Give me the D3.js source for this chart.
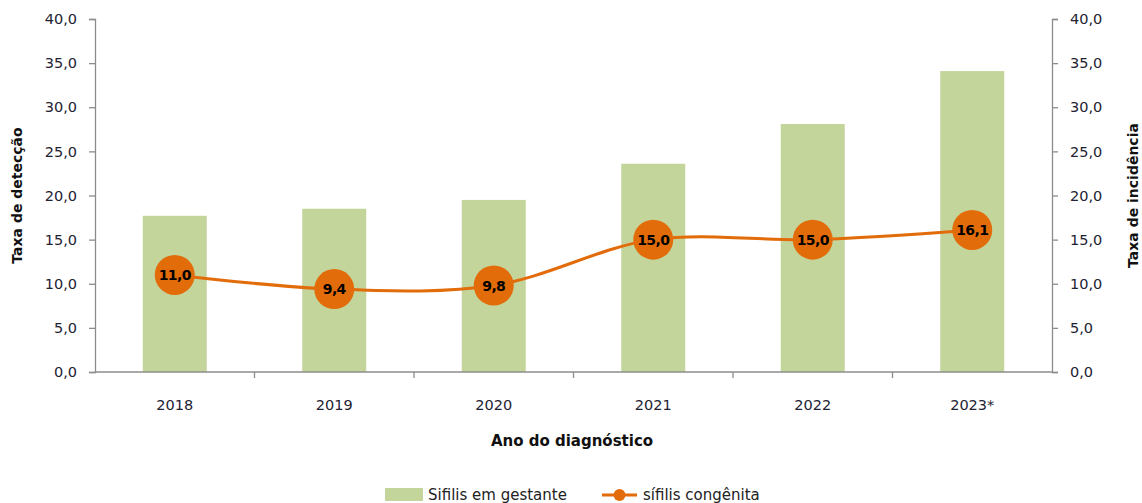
<!DOCTYPE html>
<html>
<head>
<meta charset="utf-8">
<script src="https://cdn.jsdelivr.net/npm/d3@7"></script>
<style>
  body { margin: 0; background: #fff; }
  svg text { font-family: "DejaVu Sans", Verdana, sans-serif; }
</style>
</head>
<body>
<div id="chart"></div>
<script>
// data
const years = ["2018", "2019", "2020", "2021", "2022", "2023*"];
const gestante = [17.7, 18.5, 19.5, 23.6, 28.1, 34.1];
const congenita = [11.0, 9.4, 9.8, 15.0, 15.0, 16.1];
const yTicks = [0, 5, 10, 15, 20, 25, 30, 35, 40];

const width = 1142, height = 503;
const margin = { top: 19, right: 90, bottom: 131, left: 95 };

const svg = d3.select("#chart").append("svg")
  .attr("width", width).attr("height", height);

const fmt = (d) => d3.format(".1f")(d).replace(".", ",");

// scales
const xOuter = d3.scaleBand().domain(years)
  .range([margin.left, width - margin.right]);
const yL = d3.scaleLinear().domain([0, 40]).range([height - margin.bottom, margin.top]);
const yR = d3.scaleLinear().domain([0, 40]).range([height - margin.bottom, margin.top]);
const cx = (i) => xOuter(years[i]) + xOuter.bandwidth() / 2;

const axisColor = "#8c8c8c";

// bars
svg.append("g").selectAll("rect")
  .data(gestante)
  .join("rect")
  .attr("x", (d, i) => cx(i) - 32)
  .attr("width", 64)
  .attr("y", (d) => yL(d))
  .attr("height", (d) => yL(0) - yL(d))
  .attr("fill", "#c4d59c");

// left axis
const gL = svg.append("g")
  .attr("transform", `translate(${margin.left},0)`)
  .call(d3.axisLeft(yL).tickValues(yTicks).tickFormat(fmt).tickSize(6).tickPadding(12));
// right axis
const gR = svg.append("g")
  .attr("transform", `translate(${width - margin.right},0)`)
  .call(d3.axisRight(yR).tickValues(yTicks).tickFormat(fmt).tickSize(6).tickPadding(12));

[gL, gR].forEach((g) => {
  g.select(".domain").attr("stroke", axisColor).attr("stroke-width", 1.3);
  g.selectAll(".tick line").attr("stroke", axisColor).attr("stroke-width", 1.3);
  g.selectAll(".tick text").attr("font-size", 14.5).attr("fill", "#222233");
});

// x axis baseline + ticks at category borders
const xBase = yL(0);
svg.append("line")
  .attr("x1", margin.left).attr("x2", width - margin.right)
  .attr("y1", xBase).attr("y2", xBase)
  .attr("stroke", axisColor).attr("stroke-width", 1.3);
svg.append("g").selectAll("line")
  .data(years.slice(1))
  .join("line")
  .attr("x1", (d) => xOuter(d)).attr("x2", (d) => xOuter(d))
  .attr("y1", xBase).attr("y2", xBase + 6)
  .attr("stroke", axisColor).attr("stroke-width", 1.3);
svg.append("g").selectAll("text")
  .data(years)
  .join("text")
  .attr("x", (d, i) => cx(i))
  .attr("y", xBase + 38)
  .attr("text-anchor", "middle")
  .attr("font-size", 14.5)
  .attr("fill", "#222233")
  .text((d) => d);

// line
const line = d3.line()
  .curve(d3.curveCatmullRom.alpha(0.5))
  .x((d, i) => cx(i))
  .y((d) => yR(d));

svg.append("path")
  .datum(congenita)
  .attr("fill", "none")
  .attr("stroke", "#e36c0a")
  .attr("stroke-width", 3)
  .attr("d", line);

const pts = svg.append("g").selectAll("g")
  .data(congenita)
  .join("g")
  .attr("transform", (d, i) => `translate(${cx(i)},${yR(d)})`);
pts.append("circle").attr("r", 20).attr("fill", "#e36c0a");
pts.append("text")
  .attr("text-anchor", "middle")
  .attr("dy", "0.36em")
  .attr("font-size", 14)
  .attr("font-weight", "bold")
  .attr("letter-spacing", -0.6)
  .attr("fill", "#000")
  .text((d) => fmt(d));

// axis titles
svg.append("text")
  .attr("transform", `translate(22,${(yL(0) + yL(40)) / 2}) rotate(-90)`)
  .attr("text-anchor", "middle")
  .attr("font-size", 14)
  .attr("font-weight", "bold")
  .attr("fill", "#111")
  .text("Taxa de detecção");
svg.append("text")
  .attr("transform", `translate(1138,${(yL(0) + yL(40)) / 2}) rotate(-90)`)
  .attr("text-anchor", "middle")
  .attr("font-size", 14)
  .attr("font-weight", "bold")
  .attr("fill", "#111")
  .text("Taxa de incidência");
svg.append("text")
  .attr("x", 572).attr("y", 446)
  .attr("text-anchor", "middle")
  .attr("font-family", "'Open Sans', sans-serif")
  .attr("font-size", 15)
  .attr("font-weight", "bold")
  .attr("fill", "#111")
  .text("Ano do diagnóstico");

// legend
const leg = svg.append("g").attr("transform", "translate(0,495)");
leg.append("rect").attr("x", 385).attr("y", -7).attr("width", 38).attr("height", 13).attr("fill", "#c4d59c");
leg.append("text").attr("x", 428).attr("y", 5)
  .attr("font-family", "'Open Sans', sans-serif").attr("font-size", 15).attr("fill", "#222")
  .text("Sifilis em gestante");
leg.append("line").attr("x1", 602).attr("x2", 637).attr("y1", 0).attr("y2", 0)
  .attr("stroke", "#e36c0a").attr("stroke-width", 3);
leg.append("circle").attr("cx", 619.5).attr("cy", 0).attr("r", 6).attr("fill", "#e36c0a");
leg.append("text").attr("x", 643).attr("y", 5)
  .attr("font-family", "'Open Sans', sans-serif").attr("font-size", 15).attr("fill", "#222")
  .text("sífilis congênita");
</script>
</body>
</html>
